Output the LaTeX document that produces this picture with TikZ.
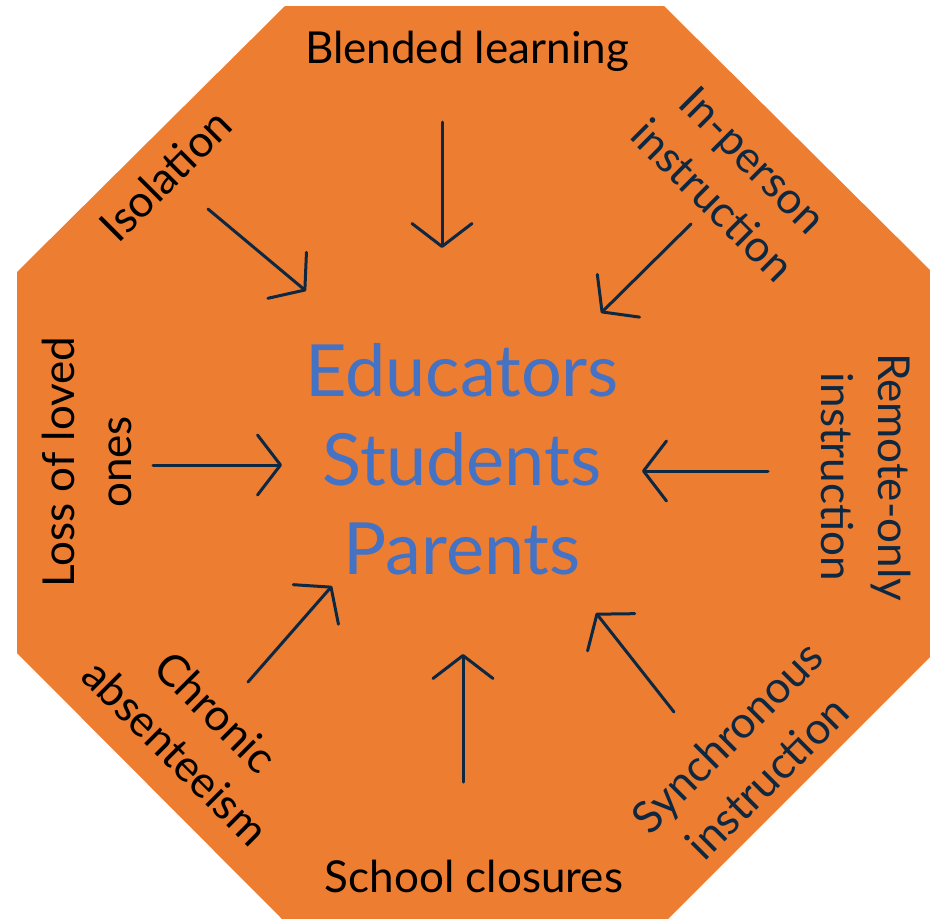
\documentclass[tikz,border=0pt]{standalone}
\usepackage{fontspec}
\setmainfont{Lato}
\usepackage{xcolor}
\usetikzlibrary{arrows.meta}

\definecolor{octorange}{HTML}{ED7D31}
\definecolor{hubblue}{HTML}{4472C4}
\definecolor{navy}{HTML}{0E2841}

\begin{document}
\begin{tikzpicture}[x=1pt,y=-1pt,
		lbl/.style={font=\fontsize{44}{57}\selectfont, align=center, inner sep=0pt},
		hub/.style={font=\fontsize{72}{89}\selectfont, align=center, text=hubblue, inner sep=0pt},
		arr/.style={draw=navy, line width=3pt, line cap=round,
			-{Straight Barb[length=23pt, width=60pt, round]}}]
	\useasboundingbox (0,0) rectangle (930,919);
	\fill[octorange] (285,6) -- (664,6) -- (930,270) -- (930,657) -- (668,919)
		-- (282,919) -- (17,653) -- (17,272) -- cycle;
	% centre
	\node[hub] (hub) at (462,459) {Educators\\Students\\Parents};
	% labels
	\node[lbl, anchor=base] (blend) at (467,63) {Blended learning};
	\node[lbl, anchor=base] (close) at (474,892) {School closures};
	\node[lbl, anchor=base, rotate=45] (iso) at (177,186) {Isolation};
	\node[lbl, rotate=-45, text=navy] (inper) at (733,180) {In-person\\instruction};
	\node[lbl, rotate=-90, text=navy] (remote) at (866,477) {Remote-only\\instruction};
	\node[lbl, rotate=90] (loss) at (87,462) {Loss of loved\\ones};
	\node[lbl, rotate=-45] (chron) at (196,732) {Chronic\\absenteeism};
	\node[lbl, rotate=45, text=navy] (sync) at (747,757) {Synchronous\\instruction};
	% arrow ends
	\coordinate (blend-s) at (442,122);	\coordinate (blend-e) at (442,248);
	\coordinate (close-s) at (463,782);	\coordinate (close-e) at (463,654);
	\coordinate (iso-s) at (208,209);	\coordinate (iso-e) at (306,291);
	\coordinate (inper-s) at (691,224);	\coordinate (inper-e) at (601,313);
	\coordinate (remote-s) at (768,471);	\coordinate (remote-e) at (642,471);
	\coordinate (loss-s) at (153,465);	\coordinate (loss-e) at (282,465);
	\coordinate (chron-s) at (248,682);	\coordinate (chron-e) at (332,586);
	\coordinate (sync-s) at (674,712);	\coordinate (sync-e) at (596,613);
	\foreach \k in {blend,close,iso,inper,remote,loss,chron,sync}
		\draw[arr] (\k-s) -- (\k-e);
\end{tikzpicture}
\end{document}
